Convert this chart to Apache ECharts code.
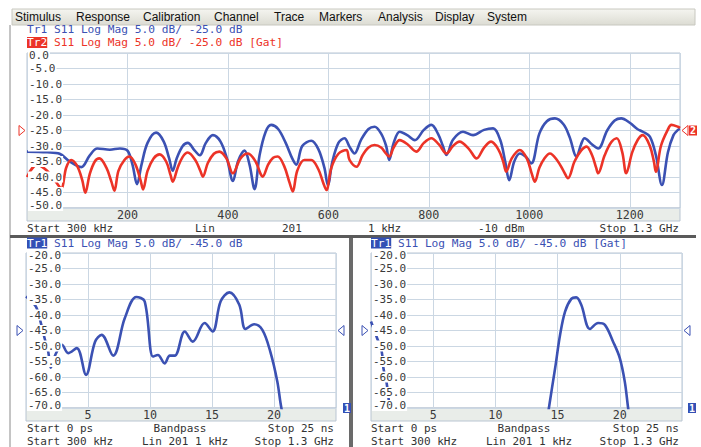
<!DOCTYPE html>
<html><head><meta charset="utf-8">
<script src="https://cdn.jsdelivr.net/npm/echarts@6/dist/echarts.min.js"></script>
<style>html,body{margin:0;padding:0;background:#fff}#c{width:701px;height:447px}</style>
</head><body><div id="c"></div>
<script>
// ---------------- DATA ----------------
const menuItems = ['Stimulus','Response','Calibration','Channel','Trace','Markers','Analysis','Display','System'];
const yTicksTop = [0,-5,-10,-15,-20,-25,-30,-35,-40,-45,-50];
const yTicksBottom = [-20,-25,-30,-35,-40,-45,-50,-55,-60,-65,-70];

// Top panel: S11 log mag vs frequency (MHz)
const tr1FreqMHz = [0,40,65,85,108,125,140,165,185,200,210,219,228,240,257,272,283,290,298,310,320,334,344,356,370,385,398,410,420,433,443,453,463,475,486,500,515,528,536,548,566,580,592,599,608,620,632,642,652,665,680,692,705,715,721,730,742,757,772,790,805,818,828,835,848,868,888,910,928,942,952,960,970,981,993,1004,1020,1035,1051,1068,1080,1094,1103,1110,1125,1137,1155,1170,1183,1200,1215,1226,1240,1252,1264,1276,1287,1296,1300];
const tr1Db = [-31.8,-32,-32.5,-35,-36.8,-33,-30.8,-31.2,-30.8,-31.5,-36,-42.3,-36,-29,-25.7,-28.5,-34,-38,-34,-30,-29,-31.5,-33,-29,-26.5,-28.5,-34,-41.3,-35,-31.5,-36,-43.9,-33,-25.5,-23.2,-24.5,-29,-34,-36,-30,-28.3,-31,-37,-42.6,-35,-29,-27.5,-30.2,-32.4,-28,-24.5,-23.8,-26,-30,-34.5,-29,-25.4,-26.5,-28.1,-24.8,-23.2,-26,-30,-32.9,-28,-25.4,-26.5,-24.8,-24.3,-28,-35,-41,-35,-32.4,-33.5,-35.6,-26,-22,-21.1,-23,-27,-33.4,-29.5,-27.5,-29.5,-30.8,-25,-21.8,-21.1,-22.5,-24.5,-25.4,-27,-33,-42.6,-32,-26.5,-24.8,-24.5];

const tr2FreqMHz = [0,20,40,55,68,78,88,100,110,116,125,135,144,158,168,174,182,194,204,216,226,231,240,252,264,277,286,290,300,310,320,335,345,350,360,372,383,397,410,425,440,455,465,469,480,490,499,512,523,529,538,552,566,580,590,596,606,620,636,642,656,668,680,692,705,715,721,730,742,758,775,790,805,820,835,848,861,880,895,910,924,938,948,954,965,981,995,1005,1011,1020,1030,1041,1055,1068,1077,1090,1103,1114,1125,1133,1137,1150,1163,1174,1185,1193,1205,1216,1226,1240,1248,1252,1262,1275,1283,1296,1300];
const tr2Db = [-40,-36,-38,-41,-43.6,-37,-34.5,-36.5,-41,-45.1,-39,-35,-34,-37,-41.5,-44.4,-38,-34.5,-33.4,-36,-41,-44,-38,-34,-32.7,-35,-39.5,-41.5,-37,-33.5,-32.1,-34.5,-38,-39.9,-35.5,-32.5,-31.8,-34,-38.8,-34,-32.4,-35,-39,-39.9,-36,-33.8,-33.4,-36.5,-42,-44.7,-38,-34.5,-34.5,-37.5,-42,-44.2,-37,-32.5,-31.3,-34.5,-36.7,-33,-30.5,-29.7,-30.5,-32.5,-33.4,-30.5,-28.1,-29.5,-31.8,-29,-27.5,-29.5,-32.4,-30,-28.6,-31,-34,-30.5,-28.6,-31,-35,-38.3,-34,-31.3,-34,-39,-41.5,-37,-34,-32.4,-34.5,-38,-40.4,-35,-31.5,-30.2,-33,-37,-38.8,-33,-28.8,-27.5,-32,-38.8,-32,-28,-26.5,-30,-35,-38.3,-30,-25,-23.2,-23.8,-24.2];

// Bottom-left: time domain (ns), bandpass
const tdrTimeNs = [0,0.8,1.2,1.5,1.8,2.0,2.36,2.9,3.4,4.1,4.84,5.57,6.1,7.03,7.97,8.9,9.57,10.24,10.64,11.18,11.6,12.0,12.8,13.45,14.4,15.05,15.7,16.4,17.2,17.7,18.4,19.06,19.7,20.27,20.6,21.0];
const tdrDb = [-34,-37.3,-42.6,-47.5,-52,-57,-52.9,-49.6,-52.3,-50.7,-59.3,-48.6,-46.4,-53.1,-41,-34.2,-35.6,-53.4,-52.9,-55.6,-53.1,-53.1,-45.3,-48.6,-42.6,-45.3,-35.6,-32.7,-36.7,-44.5,-43,-44.8,-51.8,-61.5,-70.1,-76];

// Bottom-right: gated time domain (ns)
const gatedTimeNs = [0,0.45,0.86,1.0,1.26,1.5,1.7,null,14.1,14.3,14.8,15.2,15.6,16.1,16.5,16.9,17.6,18.26,18.8,19.46,20.0,20.4,20.67,20.9];
const gatedDb = [-42.1,-47,-51.8,-57.2,-62,-70,-76,null,-76,-70,-57.2,-46.4,-38.9,-34.8,-34.3,-36.7,-44.5,-42.6,-43.2,-48.6,-53.9,-61.5,-70,-76];

// ---------------- STYLE / LAYOUT ----------------
const MONO = 'DejaVu Sans Mono';
const FS = 11.7, FS2 = 11;
const BLUE = '#3b51b3', RED = '#ec3327', BOXBLUE = '#3350b5';
const GRIDC = '#cbd7e3', BORDERC = '#b9c5d2', TXT = '#3a3a3a', BAND = '#e9ede9';
const pair = (xs, ys) => xs.map((x, i) => (x === null ? null : [x, ys[i]]));

const grids = [
  {left: 27, top: 53, width: 653, height: 155},
  {left: 26, top: 253, width: 310, height: 155},
  {left: 371, top: 253, width: 311, height: 155}
];

const xAxes = [
  {gridIndex: 0, type: 'value', min: 0, max: 1300, interval: 200},
  {gridIndex: 1, type: 'value', min: 0, max: 25, interval: 5},
  {gridIndex: 2, type: 'value', min: 0, max: 25, interval: 5}
].map(a => Object.assign(a, {
  axisLine: {show: false}, axisTick: {show: false},
  splitLine: {show: true, lineStyle: {color: GRIDC, width: 1}},
  axisLabel: {showMinLabel: false, showMaxLabel: false, fontFamily: MONO, fontSize: FS, color: TXT, margin: 1,
    formatter: v => String(v)}
}));

const yRanges = [[-50, 0], [-70, -20], [-70, -20]];
const yAxes = yRanges.map((r, i) => ({gridIndex: i, type: 'value', position: 'left', min: r[0], max: r[1], interval: 5,
  axisLine: {show: false}, axisTick: {show: false}, axisLabel: {show: false},
  splitLine: {show: true, lineStyle: {color: GRIDC, width: 1}}}));

function lineSeries(name, data, xi, yi, color) {
  return {name, type: 'line', xAxisIndex: xi, yAxisIndex: yi, data, showSymbol: false,
    smooth: 0.35, connectNulls: false, clip: true, z: 3,
    lineStyle: {color, width: 2.6}, itemStyle: {color}};
}

const chart = echarts.init(document.getElementById('c'), null, {renderer: 'svg', width: 701, height: 447});

// static graphics (menu, frames, text)
const menuLeft = [15, 76, 143, 214, 274, 319, 378, 435, 487];
const g = [];
g.push({type: 'rect', shape: {x: 12, y: 9, width: 683, height: 16},
  style: {fill: new echarts.graphic.LinearGradient(0, 0, 0, 1, [{offset: 0, color: '#f5f5f0'}, {offset: 1, color: '#dcdcd3'}]), stroke: '#c8c8c0', lineWidth: 1}, z: 10});
menuItems.forEach((m, i) => g.push({type: 'text', x: menuLeft[i], y: 16.5, z: 11,
  style: {text: m, fill: '#111', font: '12px "Liberation Sans"', textVerticalAlign: 'middle'}}));
// frames
g.push({type: 'line', shape: {x1: 10, y1: 25, x2: 10, y2: 447}, style: {stroke: '#8a8a8a', lineWidth: 1}, z: 10});
g.push({type: 'rect', shape: {x: 10, y: 235, width: 686, height: 3}, style: {fill: '#5a5a5a'}, z: 10});
g.push({type: 'rect', shape: {x: 349, y: 238, width: 4, height: 209}, style: {fill: '#6a6a6a'}, z: 10});
// x-label bands
[[27, 208, 653], [26, 408, 310], [371, 408, 311]].forEach(b => g.push({type: 'rect', shape: {x: b[0], y: b[1], width: b[2], height: 13},
  style: {fill: BAND, stroke: BORDERC, lineWidth: 1}, z: -1}));
// headers
const HFS = 11.2;
const hdrFont = HFS + 'px "' + MONO + '"';
const ftFont = FS2 + 'px "' + MONO + '"';
g.push({type: 'text', x: 27, y: 29.5, z: 11, style: {text: 'Tr1 S11 Log Mag 5.0 dB/ -25.0 dB', fill: BLUE, font: hdrFont, lineHeight: 12, textVerticalAlign: 'middle'}});
g.push({type: 'text', x: 27, y: 42.5, z: 11, style: {rich: {box: {backgroundColor: RED, fill: '#fff', fontFamily: MONO, fontSize: HFS, lineHeight: 12}, r: {fill: RED, fontFamily: MONO, fontSize: HFS, lineHeight: 12}},
  text: '{box|Tr2}{r| S11 Log Mag 5.0 dB/ -25.0 dB [Gat]}', textVerticalAlign: 'middle'}});
[[27, ''], [371, ' [Gat]']].forEach(h => g.push({type: 'text', x: h[0], y: 243, z: 11,
  style: {rich: {box: {backgroundColor: BOXBLUE, fill: '#fff', fontFamily: MONO, fontSize: HFS, lineHeight: 12}, r: {fill: BLUE, fontFamily: MONO, fontSize: HFS, lineHeight: 12}},
    text: '{box|Tr1}{r| S11 Log Mag 5.0 dB/ -45.0 dB' + h[1] + '}', textVerticalAlign: 'middle'}}));
// footer texts
function ft(x, y, s, align) {
  g.push({type: 'text', x, y, z: 11, style: {text: s, fill: '#333', font: ftFont, textAlign: align || 'left', textVerticalAlign: 'middle'}});
}
ft(27, 228, 'Start 300 kHz'); ft(195, 228, 'Lin'); ft(282, 228, '201'); ft(368, 228, '1 kHz'); ft(478, 228, '-10 dBm'); ft(679, 228, 'Stop 1.3 GHz', 'right');
ft(27, 428, 'Start 0 ps'); ft(180, 428, 'Bandpass', 'center'); ft(334, 428, 'Stop 25 ns', 'right');
ft(27, 441, 'Start 300 kHz'); ft(185, 441, 'Lin 201 1 kHz', 'center'); ft(334, 441, 'Stop 1.3 GHz', 'right');
ft(371, 428, 'Start 0 ps'); ft(524, 428, 'Bandpass', 'center'); ft(679, 428, 'Stop 25 ns', 'right');
ft(371, 441, 'Start 300 kHz'); ft(529, 441, 'Lin 201 1 kHz', 'center'); ft(679, 441, 'Stop 1.3 GHz', 'right');

chart.setOption({
  backgroundColor: '#fff',
  animation: false,
  grid: grids.map(gr => Object.assign({show: true, borderColor: BORDERC, borderWidth: 1, backgroundColor: 'transparent'}, gr)),
  xAxis: xAxes,
  yAxis: yAxes,
  series: [
    lineSeries('Tr1', pair(tr1FreqMHz, tr1Db), 0, 0, BLUE),
    lineSeries('Tr2', pair(tr2FreqMHz, tr2Db), 0, 0, RED),
    lineSeries('Tr1 TD', pair(tdrTimeNs, tdrDb), 1, 1, BLUE),
    lineSeries('Tr1 TD Gat', pair(gatedTimeNs, gatedDb), 2, 2, BLUE)
  ],
  graphic: g
});

// y tick labels, placed through each panel's axes (VNA style: inside plot, white box)
const extra = [];
const yLabFont = FS2 + 'px "' + MONO + '"';
function yLabels(idx, ticks) {
  const maxV = Math.max.apply(null, ticks), minV = Math.min.apply(null, ticks);
  ticks.forEach(v => {
    const p = chart.convertToPixel({xAxisIndex: idx, yAxisIndex: idx}, [0, v]);
    let y = p[1];
    if (v === maxV) y += 2.5;
    if (v === minV) y -= 2.5;
    extra.push({type: 'text', x: p[0] + 1, y: y, z: 9,
      style: {text: (v === 0 ? 0 : v).toFixed(1), fill: TXT, font: yLabFont, lineHeight: 11,
        textVerticalAlign: 'middle', backgroundColor: '#fff', padding: [0, 1]}});
  });
}
yLabels(0, yTicksTop);
yLabels(1, yTicksBottom);
yLabels(2, yTicksBottom);

// reference-level indicators, placed through the axes
const refTop = chart.convertToPixel({xAxisIndex: 0, yAxisIndex: 0}, [0, -25]);
const refTopR = chart.convertToPixel({xAxisIndex: 0, yAxisIndex: 0}, [1300, -25]);
const refBL = chart.convertToPixel({xAxisIndex: 1, yAxisIndex: 1}, [0, -45]);
const refBLR = chart.convertToPixel({xAxisIndex: 1, yAxisIndex: 1}, [25, -45]);
const refBR = chart.convertToPixel({xAxisIndex: 2, yAxisIndex: 2}, [0, -45]);
const refBRR = chart.convertToPixel({xAxisIndex: 2, yAxisIndex: 2}, [25, -45]);
const botBL = chart.convertToPixel({xAxisIndex: 1, yAxisIndex: 1}, [25, -70]);
const botBR = chart.convertToPixel({xAxisIndex: 2, yAxisIndex: 2}, [25, -70]);
function tri(x, y, dir, color) {
  const pts = dir > 0 ? [[x - 6, y - 5], [x, y], [x - 6, y + 5]] : [[x + 6, y - 5], [x, y], [x + 6, y + 5]];
  return {type: 'polygon', shape: {points: pts}, style: {fill: '#fff', stroke: color, lineWidth: 1}, z: 12};
}
extra.push(
  tri(refTop[0] - 2, refTop[1], 1, RED),
  tri(refTopR[0] + 2, refTopR[1], -1, RED),
  {type: 'text', x: refTopR[0] + 9, y: refTopR[1], z: 12, style: {text: '2', fill: '#fff', backgroundColor: RED, font: 'bold 10px "' + MONO + '"', textVerticalAlign: 'middle', padding: [0, 1]}},
  tri(refBL[0] - 3, refBL[1], 1, BLUE),
  tri(refBLR[0] + 2, refBLR[1], -1, BLUE),
  tri(refBR[0] - 3, refBR[1], 1, BLUE),
  tri(refBRR[0] + 2, refBRR[1], -1, BLUE),
  {type: 'text', x: botBL[0] + 7, y: botBL[1], z: 12, style: {text: '1', fill: '#fff', backgroundColor: BOXBLUE, font: 'bold 10px "' + MONO + '"', textVerticalAlign: 'middle', padding: [0, 1]}},
  {type: 'text', x: botBR[0] + 6, y: botBR[1], z: 12, style: {text: '1', fill: '#fff', backgroundColor: BOXBLUE, font: 'bold 10px "' + MONO + '"', textVerticalAlign: 'middle', padding: [0, 1]}}
);
chart.setOption({graphic: g.concat(extra)});
</script></body></html>
